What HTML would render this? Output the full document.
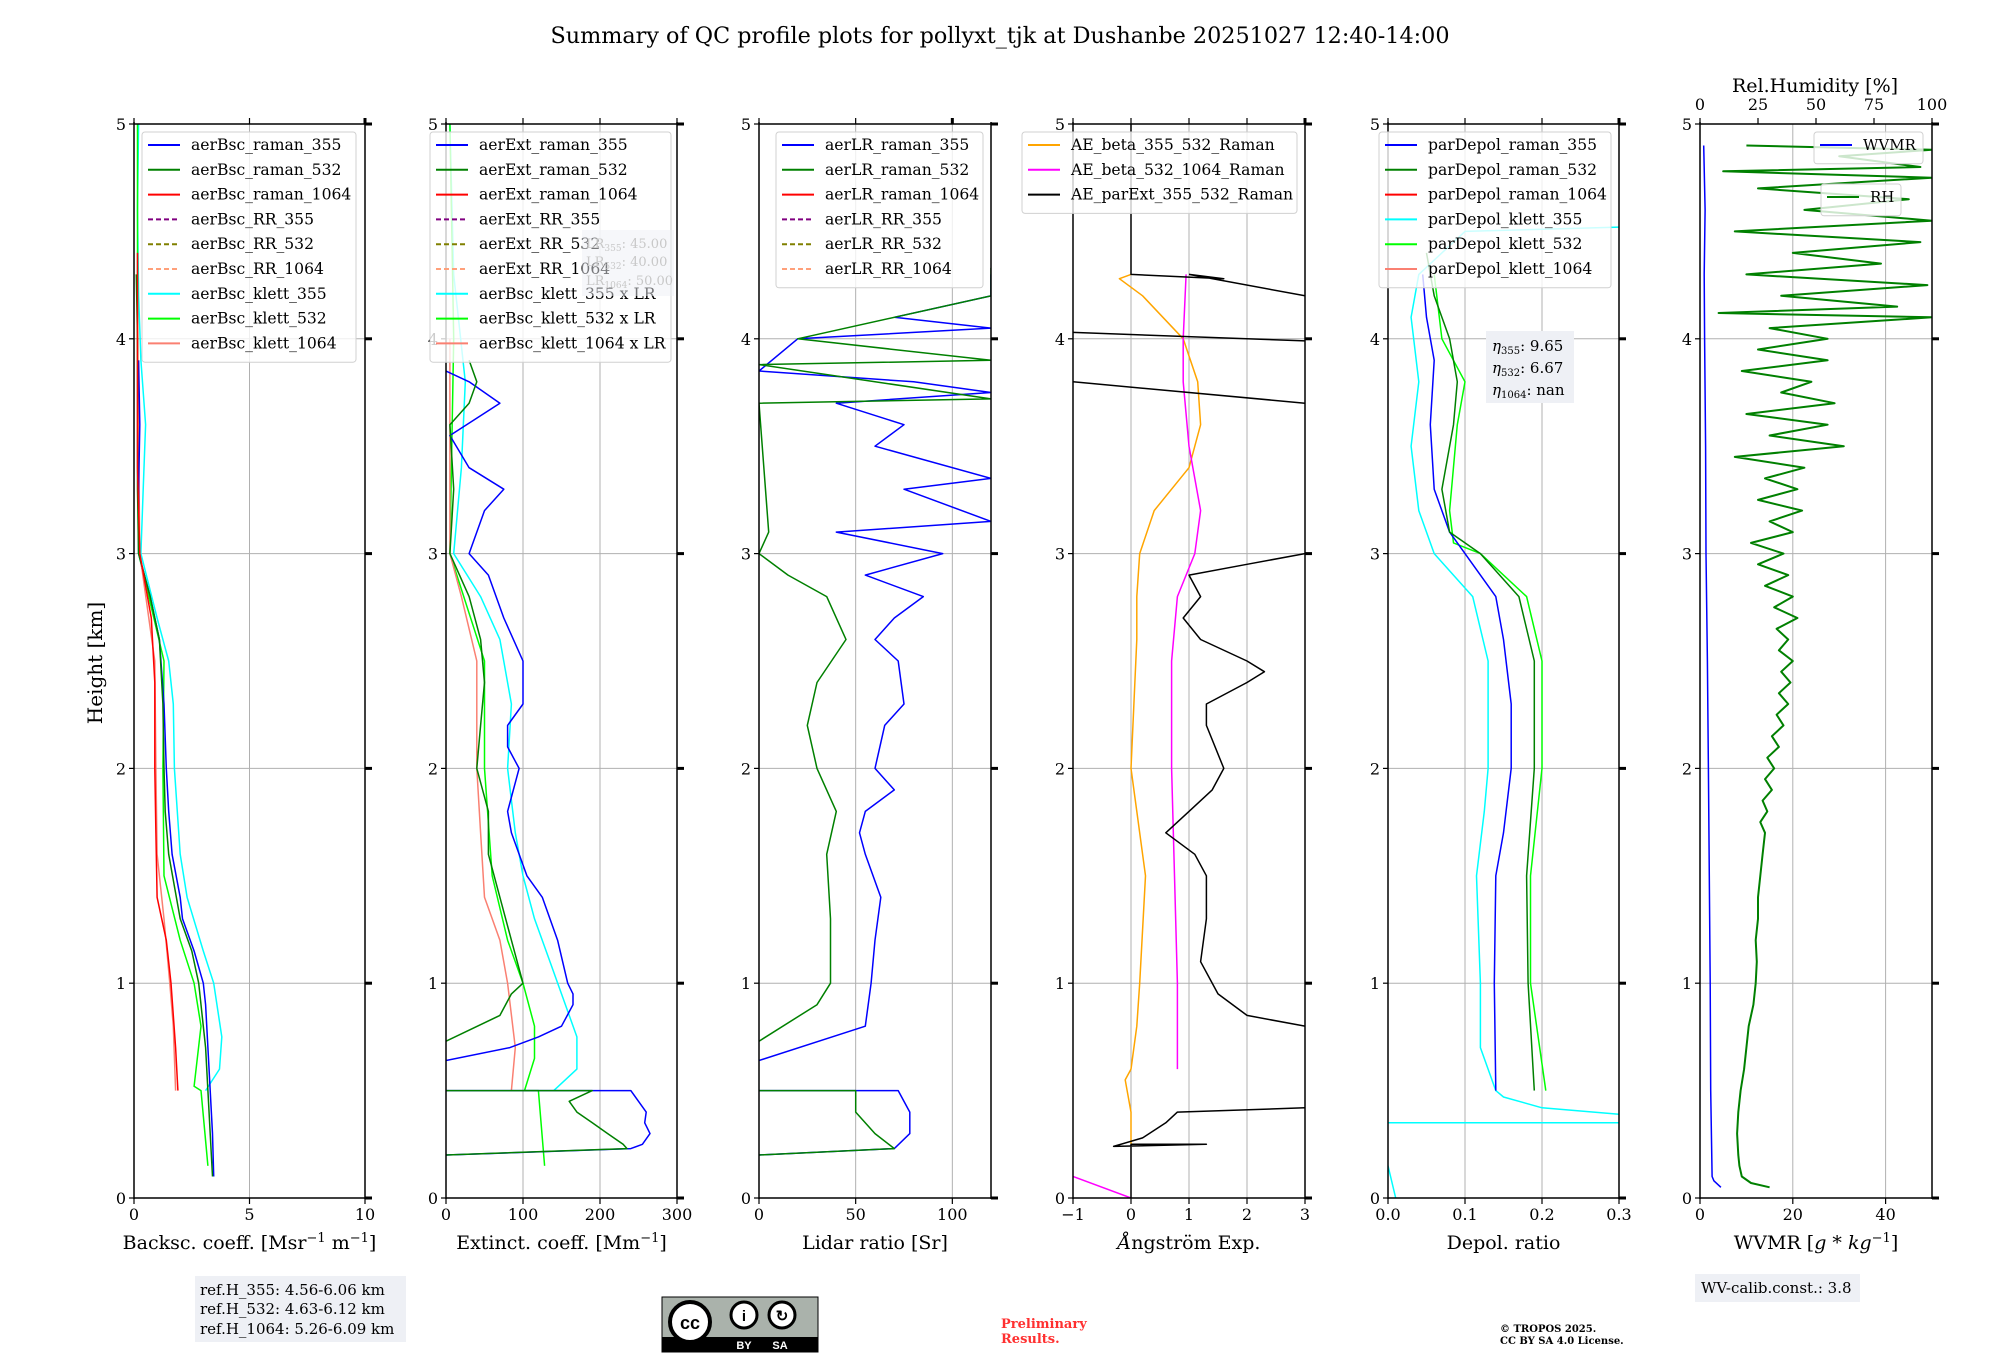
<!DOCTYPE html>
<html><head><meta charset="utf-8">
<style>
html,body{margin:0;padding:0;background:#fff;}
svg{display:block;font-family:"DejaVu Serif","Liberation Serif",serif;}
</style></head>
<body>
<svg id="fig" width="2000" height="1360" viewBox="0 0 2000 1360" xmlns="http://www.w3.org/2000/svg">
<rect width="2000" height="1360" fill="#fff"/>
<text x="1000" y="43" font-size="22.3" text-anchor="middle">Summary of QC profile plots for pollyxt_tjk at Dushanbe 20251027 12:40-14:00</text>
<text transform="translate(102,663) rotate(-90)" font-size="20" text-anchor="middle">Height [km]</text>
<g id="panels"></g>
<g id="extras">
<rect x="582" y="230" width="92" height="66" fill="#eef0f5" opacity="0.5"/>
<text x="586" y="248" font-size="13" fill="#c8c8c8">LR<tspan font-size="9" dy="3">355</tspan><tspan dy="-3">: 45.00</tspan></text>
<text x="586" y="266" font-size="13" fill="#c8c8c8">LR<tspan font-size="9" dy="3">532</tspan><tspan dy="-3">: 40.00</tspan></text>
<text x="586" y="285" font-size="13" fill="#c8c8c8">LR<tspan font-size="9" dy="3">1064</tspan><tspan dy="-3">: 50.00</tspan></text>
<rect x="1486" y="331" width="88" height="72" fill="#eef0f5"/>
<text x="1492" y="351" font-size="15"><tspan font-style="italic">η</tspan><tspan font-size="10" dy="3">355</tspan><tspan dy="-3">: 9.65</tspan></text>
<text x="1492" y="373" font-size="15"><tspan font-style="italic">η</tspan><tspan font-size="10" dy="3">532</tspan><tspan dy="-3">: 6.67</tspan></text>
<text x="1492" y="395" font-size="15"><tspan font-style="italic">η</tspan><tspan font-size="10" dy="3">1064</tspan><tspan dy="-3">: nan</tspan></text>
<rect x="195" y="1276" width="211" height="66" fill="#eef0f5"/>
<text x="200" y="1295" font-size="15">ref.H_355: 4.56-6.06 km</text>
<text x="200" y="1314" font-size="15">ref.H_532: 4.63-6.12 km</text>
<text x="200" y="1334" font-size="15">ref.H_1064: 5.26-6.09 km</text>
<g>
<rect x="662" y="1297" width="156" height="55" fill="#aab2ab" stroke="#000" stroke-width="1"/>
<rect x="662" y="1337" width="156" height="15" fill="#000"/>
<circle cx="690" cy="1322" r="20" fill="#fff" stroke="#000" stroke-width="4"/>
<text x="690" y="1329" font-size="18" font-weight="bold" text-anchor="middle" font-family="Liberation Sans,sans-serif">cc</text>
<circle cx="744" cy="1315" r="13" fill="#fff" stroke="#000" stroke-width="3"/>
<circle cx="782" cy="1315" r="13" fill="#fff" stroke="#000" stroke-width="3"/>
<text x="744" y="1321" font-size="15" font-weight="bold" text-anchor="middle" font-family="Liberation Sans,sans-serif">i</text>
<text x="782" y="1321" font-size="15" font-weight="bold" text-anchor="middle" font-family="Liberation Sans,sans-serif">↻</text>
<text x="744" y="1349" font-size="11" font-weight="bold" fill="#fff" text-anchor="middle" font-family="Liberation Sans,sans-serif">BY</text>
<text x="780" y="1349" font-size="11" font-weight="bold" fill="#fff" text-anchor="middle" font-family="Liberation Sans,sans-serif">SA</text>
</g>
<text x="1001" y="1328" font-size="13" font-weight="bold" fill="#ff3030">Preliminary</text>
<text x="1001" y="1343" font-size="13" font-weight="bold" fill="#ff3030">Results.</text>
<text x="1500" y="1332" font-size="10" font-weight="bold">© TROPOS 2025.</text>
<text x="1500" y="1344" font-size="10" font-weight="bold">CC BY SA 4.0 License.</text>
<rect x="1695" y="1274" width="165" height="28" fill="#eef0f5"/>
<text x="1701" y="1293" font-size="15">WV-calib.const.: 3.8</text>
</g>
</svg>
<script>
// ---------- Panel 1: backscatter ----------
const bsc355H=[0.1,0.3,0.5,0.7,0.9,1.0,1.15,1.3,1.4,1.6,1.8,2.0,2.3,2.6,2.8,3.0,3.3,3.6,3.9];
const bsc355V=[3.45,3.4,3.3,3.2,3.1,3.0,2.6,2.1,2.0,1.65,1.5,1.4,1.3,1.1,0.7,0.2,0.2,0.25,0.2];
const bsc532H=[0.1,0.3,0.5,0.7,0.9,1.0,1.15,1.3,1.6,1.8,2.0,2.3,2.6,2.8,3.0,3.3,3.6,4.0,4.3];
const bsc532V=[3.4,3.3,3.2,3.1,2.9,2.8,2.5,2.0,1.5,1.35,1.3,1.25,1.1,0.7,0.2,0.15,0.15,0.15,0.1];
const bsc1064H=[0.5,0.7,1.0,1.2,1.4,1.7,2.0,2.4,2.7,3.0,3.4,4.0,4.4];
const bsc1064V=[1.9,1.8,1.6,1.4,1.0,0.95,0.9,0.9,0.75,0.25,0.15,0.15,0.15];
const bscK355H=[0.5,0.6,0.75,1.0,1.15,1.4,1.6,2.0,2.3,2.5,2.7,3.0,3.3,3.6,3.9,4.2,4.6,5.0];
const bscK355V=[3.1,3.7,3.8,3.45,3.0,2.3,2.0,1.75,1.7,1.5,1.0,0.3,0.4,0.5,0.3,0.2,0.15,0.2];
const bscK532H=[0.15,0.5,0.52,0.8,1.0,1.2,1.5,2.0,2.5,3.0,4.0,5.0];
const bscK532V=[3.2,2.9,2.6,2.9,2.6,2.0,1.3,1.25,1.3,0.2,0.15,0.15];
const bscK1064H=[0.5,0.8,1.0,1.3,1.6,2.0,2.5,3.0,4.0];
const bscK1064V=[1.8,1.7,1.55,1.3,1.0,0.95,0.9,0.25,0.15];
// ---------- Panel 2: extinction ----------
const ext355H=[0.2,0.23,0.25,0.3,0.35,0.4,0.45,0.5,0.5,null,0.64,0.7,0.75,0.8,0.9,0.95,1.0,1.2,1.4,1.5,1.7,1.8,2.0,2.1,2.2,2.3,2.5,2.7,2.9,3.0,3.2,3.3,3.4,3.55,3.7,3.8,3.85];
const ext355V=[0,240,255,265,258,260,250,240,0,null,0,83,120,150,165,165,158,145,125,105,85,80,95,80,80,100,100,75,55,30,50,75,30,5,70,30,0];
const ext532H=[0.2,0.23,0.25,0.3,0.35,0.4,0.45,0.5,0.5,null,0.73,0.85,0.95,1.0,1.2,1.4,1.6,1.8,2.0,2.2,2.4,2.6,2.8,3.0,3.3,3.6,3.7,3.8,3.9];
const ext532V=[0,235,230,210,190,170,160,190,0,null,0,70,85,100,85,70,55,55,40,45,50,45,30,5,10,5,30,40,30];
const extK355H=[0.5,0.6,0.75,0.9,1.1,1.3,1.5,1.7,2.0,2.3,2.6,2.8,3.0,3.4,3.8,4.3,5.0];
const extK355V=[140,170,170,155,135,115,100,90,80,85,70,45,10,20,25,10,5];
const extK532H=[0.15,0.5,0.5,0.65,0.8,1.0,1.2,1.5,2.0,2.5,3.0,4.0,5.0];
const extK532V=[128,120,102,115,115,100,80,60,50,50,5,10,5];
const extK1064H=[0.5,0.7,1.0,1.2,1.4,1.7,2.0,2.5,2.8,3.0,4.0];
const extK1064V=[85,90,80,70,50,45,40,40,20,5,5];
// ---------- Panel 3: lidar ratio ----------
const lr355H=[0.2,0.23,0.3,0.4,0.5,0.5,null,0.64,0.8,1.0,1.2,1.4,1.6,1.7,1.8,1.9,2.0,2.2,2.3,2.5,2.6,2.7,2.8,2.9,3.0,3.1,3.15,3.3,3.35,3.5,3.6,3.7,3.75,3.8,3.85,4.0,4.05,4.1,4.2,4.3];
const lr355V=[0,70,78,78,72,0,null,0,55,58,60,63,55,52,55,70,60,65,75,72,60,70,85,55,95,40,120,75,120,60,75,40,120,80,0,20,120,70,120,120];
const lr532H=[0.2,0.23,0.3,0.4,0.5,0.5,null,0.73,0.9,1.0,1.3,1.6,1.8,2.0,2.2,2.4,2.6,2.8,2.9,3.0,3.1,3.7,3.72,3.88,3.9,4.0,4.2,4.33];
const lr532V=[0,70,60,50,50,0,null,0,30,37,37,35,40,30,25,30,45,35,15,0,5,0,120,0,120,20,120,120];
// ---------- Panel 4: Angstrom ----------
const aeB355H=[0.25,0.4,0.55,0.6,0.8,1.0,1.5,1.8,2.0,2.3,2.6,2.8,3.0,3.2,3.4,3.6,3.8,4.0,4.2,4.28,4.3];
const aeB355V=[0,0,-0.1,0,0.1,0.15,0.25,0.1,0,0.05,0.1,0.1,0.15,0.4,1.0,1.2,1.15,0.9,0.2,-0.2,0];
const aeB532H=[0,0.1,null,0.6,1.0,2.0,2.5,2.8,3.0,3.2,3.5,3.8,4.0,4.3];
const aeB532V=[0,-1,null,0.8,0.8,0.7,0.7,0.8,1.1,1.2,1.0,0.9,0.9,0.95];
const aeExtH=[0,0.25,0.25,0.24,0.28,0.35,0.4,0.42,null,0.8,0.85,0.95,1.1,1.3,1.5,1.6,1.7,1.8,1.9,2.0,2.2,2.3,2.4,2.45,2.5,2.6,2.7,2.8,2.9,2.95,3.0,null,3.8,3.7,null,4.03,3.99,null,4.3,4.2,null,4.3,4.28,4.3,5.0];
const aeExtV=[0,0,1.3,-0.3,0.2,0.6,0.8,3,null,3,2,1.5,1.2,1.3,1.3,1.1,0.6,1.0,1.4,1.6,1.3,1.3,2.0,2.3,2.0,1.2,0.9,1.2,1.0,2.0,3,null,-1,3,null,-1,3,null,1,3,null,1,1.6,0,0];
// ---------- Panel 5: depolarization ----------
const pd355H=[0.5,1.0,1.5,1.7,2.0,2.3,2.6,2.8,3.0,3.1,3.3,3.6,3.9,4.1,4.3];
const pd355V=[0.14,0.138,0.14,0.15,0.16,0.16,0.15,0.14,0.1,0.08,0.06,0.055,0.06,0.05,0.045];
const pd532H=[0.5,1.0,1.5,2.0,2.5,2.8,3.0,3.1,3.3,3.6,3.8,4.0,4.2,4.4];
const pd532V=[0.19,0.182,0.18,0.19,0.19,0.17,0.12,0.08,0.07,0.085,0.09,0.08,0.06,0.05];
const pdK355H=[0,0.15,null,0.35,0.35,null,0.39,0.42,0.47,0.5,0.7,1.0,1.5,1.8,2.0,2.5,2.8,3.0,3.2,3.5,3.8,4.1,4.3,4.5,4.52];
const pdK355V=[0.01,0.0,null,0,0.3,null,0.3,0.2,0.15,0.14,0.12,0.12,0.115,0.125,0.13,0.13,0.11,0.06,0.04,0.03,0.04,0.03,0.04,0.1,0.3];
const pdK532H=[0.5,1.0,1.5,2.0,2.5,2.8,3.0,3.05,3.2,3.6,3.8,4.0,4.3];
const pdK532V=[0.205,0.185,0.185,0.2,0.2,0.18,0.12,0.085,0.08,0.09,0.1,0.07,0.06];
// ---------- Panel 6: water vapour ----------
const wvH=[0.05,0.08,0.1,0.5,1.0,1.5,2.0,2.5,3.0,3.5,4.0,4.3,4.6,4.9];
const wvV=[4.5,3.0,2.6,2.3,2.2,2.0,1.8,1.6,1.3,1.2,1.0,0.9,1.1,0.8];
const rhH=[0.05,0.07,0.1,0.15,0.2,0.3,0.4,0.5,0.6,0.7,0.8,0.9,1.0,1.1,1.2,1.3,1.4,1.5,1.6,1.7,1.75,1.8,1.85,1.9,1.95,2.0,2.05,2.1,2.15,2.2,2.25,2.3,2.35,2.4,2.45,2.5,2.55,2.6,2.65,2.7,2.75,2.8,2.85,2.9,2.95,3.0,3.05,3.1,3.15,3.2,3.25,3.3,3.35,3.4,3.45,3.5,3.55,3.6,3.65,3.7,3.75,3.8,3.85,3.9,3.95,4.0,4.05,4.1,4.12,4.15,4.2,4.25,4.3,4.35,4.4,4.45,4.5,4.55,4.6,4.65,4.7,4.75,4.78,4.8,4.85,4.88,4.9];
const rhV=[30,22,18,17,16.5,16,16.5,17.5,19,20,21,23,24,24.5,24,25,25,26,27,28,26,29,27,31,28,32,29,34,31,36,33,38,34,39,35,40,34,38,33,42,32,40,28,38,25,36,22,40,30,44,25,42,28,45,15,62,30,55,20,58,35,48,18,55,25,55,30,100,8,85,35,98,20,78,40,95,15,100,45,90,25,100,10,95,60,100,20];

const NS="http://www.w3.org/2000/svg";
const svg=document.getElementById('panels');
const Y0=1198, PXKM=214.8;
function yS(h){return Y0-h*PXKM;}
function mk(tag,attrs,parent){const e=document.createElementNS(NS,tag);for(const k in attrs)e.setAttribute(k,attrs[k]);(parent||svg).appendChild(e);return e;}
const panels=[
 {id:'bsc',x0:134,x1:365,min:0,max:10,ticks:[0,5,10],lab:['0','5','10'],label:'Backsc. coeff. [Msr<tspan dy="-7" font-size="13">−1</tspan><tspan dy="7"> m</tspan><tspan dy="-7" font-size="13">−1</tspan><tspan dy="7">]</tspan>'},
 {id:'ext',x0:446,x1:677,min:0,max:300,ticks:[0,100,200,300],lab:['0','100','200','300'],label:'Extinct. coeff. [Mm<tspan dy="-7" font-size="13">−1</tspan><tspan dy="7">]</tspan>'},
 {id:'lr',x0:759,x1:991,min:0,max:120,ticks:[0,50,100],lab:['0','50','100'],label:'Lidar ratio [Sr]'},
 {id:'ae',x0:1073,x1:1305,min:-1,max:3,ticks:[-1,0,1,2,3],lab:['−1','0','1','2','3'],label:'<tspan font-style="italic">Å</tspan>ngström Exp.'},
 {id:'pd',x0:1388,x1:1619,min:0,max:0.3,ticks:[0,0.1,0.2,0.3],lab:['0.0','0.1','0.2','0.3'],label:'Depol. ratio'},
 {id:'wv',x0:1700,x1:1932,min:0,max:50,ticks:[0,20,40],lab:['0','20','40'],label:'WVMR [<tspan font-style="italic">g</tspan> * <tspan font-style="italic">kg</tspan><tspan dy="-7" font-size="13">−1</tspan><tspan dy="7">]</tspan>'}
];
function xS(p,v){return p.x0+(v-p.min)/(p.max-p.min)*(p.x1-p.x0);}
const defs=mk('defs',{});
panels.forEach(p=>{
 const cp=mk('clipPath',{id:'clip-'+p.id},defs);
 mk('rect',{x:p.x0,y:yS(5),width:p.x1-p.x0,height:PXKM*5},cp);
 const g=mk('g',{});
 
 
 p.g=g;
 p.ticks.forEach(t=>{const x=xS(p,t);
  const l=mk('line',{x1:x,x2:x,y1:yS(0),y2:yS(5),stroke:'#b0b0b0','stroke-width':1},g);
  
  });
 [1,2,3,4].forEach(h=>{
  const l=mk('line',{x1:p.x0,x2:p.x1,y1:yS(h),y2:yS(h),stroke:'#b0b0b0','stroke-width':1},g);
  
  });
 p.plot=mk('g',{'clip-path':'url(#clip-'+p.id+')'},g);
});
function series(pi,H,V,color,name,dash,w){
 const p=panels[pi];let d='',pen=false;
 for(let i=0;i<H.length;i++){
  if(H[i]===null||V[i]===null){pen=false;continue;}
  d+=(pen?'L':'M')+xS(p,V[i]).toFixed(1)+' '+yS(H[i]).toFixed(1)+' ';pen=true;}
 const a={d:d,fill:'none',stroke:color,'stroke-width':w||1.5,'stroke-linejoin':'round'};
 if(dash)a['stroke-dasharray']=dash;
 const e=mk('path',a,p.plot);
 
 
 return e;
}
series(0,bscK355H,bscK355V,'#00ffff','aerbsc-klett-355-line');
series(0,bscK532H,bscK532V,'#00ff00','aerbsc-klett-532-line');
series(0,bscK1064H,bscK1064V,'#fa8072','aerbsc-klett-1064-line');
series(0,bsc355H,bsc355V,'#0000ff','aerbsc-raman-355-line');
series(0,bsc532H,bsc532V,'#008000','aerbsc-raman-532-line');
series(0,bsc1064H,bsc1064V,'#ff0000','aerbsc-raman-1064-line');
series(1,extK355H,extK355V,'#00ffff','ext-klett-355-line');
series(1,extK532H,extK532V,'#00ff00','ext-klett-532-line');
series(1,extK1064H,extK1064V,'#fa8072','ext-klett-1064-line');
series(1,ext355H,ext355V,'#0000ff','aerext-raman-355-line');
series(1,ext532H,ext532V,'#008000','aerext-raman-532-line');
series(2,lr355H,lr355V,'#0000ff','aerlr-raman-355-line');
series(2,lr532H,lr532V,'#008000','aerlr-raman-532-line');
series(3,aeB355H,aeB355V,'#ffa500','ae-beta-355-532-line');
series(3,aeB532H,aeB532V,'#ff00ff','ae-beta-532-1064-line');
series(3,aeExtH,aeExtV,'#000000','ae-parext-355-532-line');
series(4,pdK355H,pdK355V,'#00ffff','pardepol-klett-355-line');
series(4,pdK532H,pdK532V,'#00ff00','pardepol-klett-532-line');
series(4,pd355H,pd355V,'#0000ff','pardepol-raman-355-line');
series(4,pd532H,pd532V,'#008000','pardepol-raman-532-line');
series(5,wvH,wvV,'#0000ff','wvmr-line');
series(5,rhH,rhV.map(v=>v/2),'#008000','rh-line',null,2);

panels.forEach((p,pi)=>{
 const g=p.g;
 const ax=mk('g',{},g);
 
 
 mk('line',{x1:p.x0,x2:p.x0,y1:yS(5)-2,y2:yS(0)+1,stroke:'#000','stroke-width':1.5},ax);
 mk('line',{x1:p.x1,x2:p.x1,y1:yS(5)-2,y2:yS(0)+1,stroke:'#000','stroke-width':1.5},ax);
 mk('line',{x1:p.x0,x2:p.x1,y1:yS(0),y2:yS(0),stroke:'#000','stroke-width':1.5},ax);
 mk('line',{x1:p.x0,x2:p.x1,y1:yS(5),y2:yS(5),stroke:'#000','stroke-width':1.5},ax);
 [0,1,2,3,4,5].forEach(h=>{
  mk('line',{x1:p.x0-5,x2:p.x0,y1:yS(h),y2:yS(h),stroke:'#000','stroke-width':1.2},ax);
  mk('line',{x1:p.x1,x2:p.x1+7,y1:yS(h),y2:yS(h),stroke:'#000','stroke-width':3},ax);
  const t=mk('text',{x:p.x0-8,y:yS(h)+6,'font-size':16,'text-anchor':'end'},ax);
  t.textContent=String(h);
  
  
 });
 p.ticks.forEach((tv,i)=>{const x=xS(p,tv);
  mk('line',{x1:x,x2:x,y1:yS(0),y2:yS(0)+6,stroke:'#000','stroke-width':1.2},ax);
  if(p.id!=='wv')mk('line',{x1:x,x2:x,y1:yS(5)-6,y2:yS(5),stroke:'#000','stroke-width':(i===p.ticks.length-1&&p.id!=='ext')?3:1.2},ax);
  const t=mk('text',{x:x,y:1220,'font-size':16,'text-anchor':'middle'},ax);
  t.textContent=p.lab[i];
  
  
 });
 const xl=mk('text',{x:(p.x0+p.x1)/2,y:1249,'font-size':19,'text-anchor':'middle'},g);
 xl.innerHTML=p.label;
 
 
});
const rhTicks=[0,25,50,75,100];
const pw=panels[5];
rhTicks.forEach(v=>{const x=pw.x0+v/100*(pw.x1-pw.x0);
 mk('line',{x1:x,x2:x,y1:yS(5)-6,y2:yS(5),stroke:'#000','stroke-width':1.2},pw.g);
 const t=mk('text',{x:x,y:110,'font-size':16,'text-anchor':'middle'},pw.g);
 t.textContent=String(v);
 
 
});
const rht=mk('text',{x:1815,y:92,'font-size':19,'text-anchor':'middle'},pw.g);
rht.textContent='Rel.Humidity [%]';



function legend(x,y,w,entries,name,fs){
 const g=mk('g',{});
 
 
 mk('rect',{x:x,y:y,width:w,height:entries.length*24.8+7,rx:3,fill:'#fff','fill-opacity':0.8,stroke:'#d0d0d0'},g);
 entries.forEach((e,i)=>{const cy=y+13+i*24.8;
  const a={x1:x+6,x2:x+38,y1:cy,y2:cy,stroke:e[1],'stroke-width':2};
  if(e[2])a['stroke-dasharray']='5,3';
  mk('line',a,g);
  const t=mk('text',{x:x+49,y:cy+5,'font-size':fs||15.6},g);
  t.textContent=e[0];
  
  
 });
}
legend(142,132,214,[['aerBsc_raman_355','#0000ff'],['aerBsc_raman_532','#008000'],['aerBsc_raman_1064','#ff0000'],['aerBsc_RR_355','#800080',1],['aerBsc_RR_532','#808000',1],['aerBsc_RR_1064','#ffa07a',1],['aerBsc_klett_355','#00ffff'],['aerBsc_klett_532','#00ff00'],['aerBsc_klett_1064','#fa8072']],'bsc-legend');
legend(430,132,241,[['aerExt_raman_355','#0000ff'],['aerExt_raman_532','#008000'],['aerExt_raman_1064','#ff0000'],['aerExt_RR_355','#800080',1],['aerExt_RR_532','#808000',1],['aerExt_RR_1064','#ffa07a',1],['aerBsc_klett_355 x LR','#00ffff'],['aerBsc_klett_532 x LR','#00ff00'],['aerBsc_klett_1064 x LR','#fa8072']],'ext-legend');
legend(776,132,207,[['aerLR_raman_355','#0000ff'],['aerLR_raman_532','#008000'],['aerLR_raman_1064','#ff0000'],['aerLR_RR_355','#800080',1],['aerLR_RR_532','#808000',1],['aerLR_RR_1064','#ffa07a',1]],'lr-legend');
legend(1022,132,275,[['AE_beta_355_532_Raman','#ffa500'],['AE_beta_532_1064_Raman','#ff00ff'],['AE_parExt_355_532_Raman','#000000']],'ae-legend');
legend(1379,132,232,[['parDepol_raman_355','#0000ff'],['parDepol_raman_532','#008000'],['parDepol_raman_1064','#ff0000'],['parDepol_klett_355','#00ffff'],['parDepol_klett_532','#00ff00'],['parDepol_klett_1064','#fa8072']],'pd-legend');
legend(1814,132,109,[['WVMR','#0000ff']],'wvmr-legend',15);
legend(1821,184,80,[['RH','#008000']],'rh-legend',15);
</script>
</body></html>
